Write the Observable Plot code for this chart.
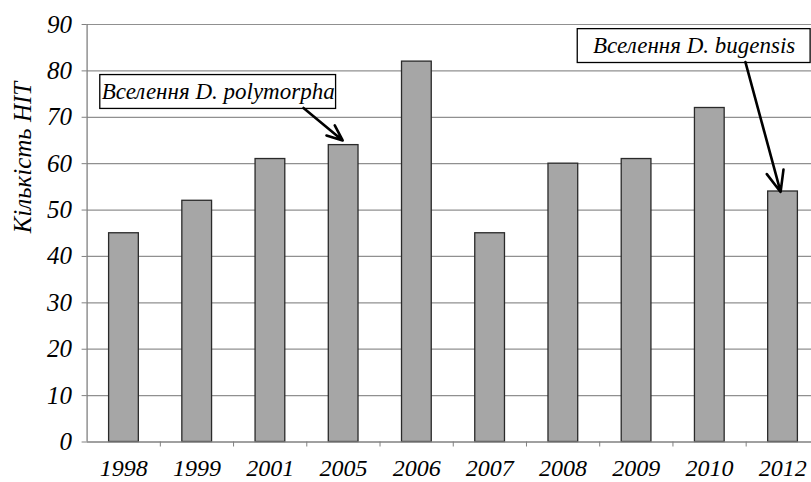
<!DOCTYPE html>
<html>
<head>
<meta charset="utf-8">
<script src="https://cdn.jsdelivr.net/npm/d3@7"></script>
<script src="https://cdn.jsdelivr.net/npm/@observablehq/plot@0.6"></script>
<style>
  html, body { margin: 0; padding: 0; background: #fff; }
  svg text { font-family: "Liberation Serif", "DejaVu Serif", serif !important; font-style: italic; }
</style>
</head>
<body>
<div id="chart"></div>
<script>
// Data
const years = ["1998", "1999", "2001", "2005", "2006", "2007", "2008", "2009", "2010", "2012"];
const counts = [45, 52, 61, 64, 82, 45, 60, 61, 72, 54];
const yTicks = [0, 10, 20, 30, 40, 50, 60, 70, 80, 90];
const yLabel = "Кількість НІТ";

// Annotations (positions in data units: x = category index, y = count)
const noteTexts = ["Вселення D. polymorpha", "Вселення D. bugensis"];
const noteBoxX1 = [-0.32, 6.2];
const noteBoxX2 = [2.9, 9.38];
const noteBoxY1 = [71.8, 81.7];
const noteBoxY2 = [79.1, 89.0];
const arrowX1 = [2.455, 8.49];
const arrowY1 = [72.0, 81.9];
const arrowX2 = [2.99, 8.97];
const arrowY2 = [65.0, 53.9];

const bars = years.map((y, i) => ({i, year: y, value: counts[i]}));
const notes = noteTexts.map((t, k) => ({
  text: t,
  x1: noteBoxX1[k], x2: noteBoxX2[k], y1: noteBoxY1[k], y2: noteBoxY2[k],
  ax1: arrowX1[k], ay1: arrowY1[k], ax2: arrowX2[k], ay2: arrowY2[k]
}));
const boundaries = d3.range(years.length - 1).map(i => i + 0.5);
const serif = "Liberation Serif";

const chart = Plot.plot({
  width: 811,
  height: 482,
  marginLeft: 86.6,
  marginRight: 0,
  marginTop: 24,
  marginBottom: 40.5,
  style: {fontFamily: serif, fontStyle: "italic", color: "#000", background: "#fff"},
  x: {type: "linear", domain: [-0.5, years.length - 0.5], range: [86.6, 818.9]},
  y: {domain: [0, 90], range: [441.5, 24]},
  marks: [
    Plot.gridY(yTicks.filter(d => d > 0), {stroke: "#909090", strokeOpacity: 1, strokeWidth: 1.2}),
    Plot.rectY(bars, {x1: d => d.i - 0.5, x2: d => d.i + 0.5, y: "value", insetLeft: 22, insetRight: 21.5,
      fill: "#a6a6a6", stroke: "#2a2a2a", strokeWidth: 1.3}),
    Plot.ruleY([0], {stroke: "#808080", strokeWidth: 1.3}),
    Plot.ruleX([-0.5], {stroke: "#808080", strokeWidth: 1.3}),
    Plot.axisY({ticks: yTicks, tickSize: 5, tickPadding: 10, fontSize: 25, fontFamily: serif, stroke: "#808080", fill: "#000", label: null}),
    Plot.axisX({ticks: boundaries, tickSize: 5, tickFormat: () => "", stroke: "#808080", label: null}),
    Plot.axisX({ticks: d3.range(years.length), tickSize: 0, tickPadding: 17, tickFormat: i => years[i], fontSize: 24, fontFamily: serif, fill: "#000", label: null}),
    Plot.text([yLabel], {frameAnchor: "left", rotate: -90, dx: -64, fontSize: 25, fontFamily: serif, fill: "#000"}),
    Plot.rect(notes, {x1: "x1", x2: "x2", y1: "y1", y2: "y2", fill: "#fff", stroke: "#000", strokeWidth: 1.3}),
    Plot.text(notes, {x: d => (d.x1 + d.x2) / 2, y: d => (d.y1 + d.y2) / 2, text: "text", fontSize: 23, fontFamily: serif, fill: "#000"}),
    Plot.arrow(notes, {x1: "ax1", y1: "ay1", x2: "ax2", y2: "ay2", stroke: "#000", strokeWidth: 2.6, headLength: 13, headAngle: 45})
  ]
});
document.getElementById("chart").appendChild(chart);
</script>
</body>
</html>
